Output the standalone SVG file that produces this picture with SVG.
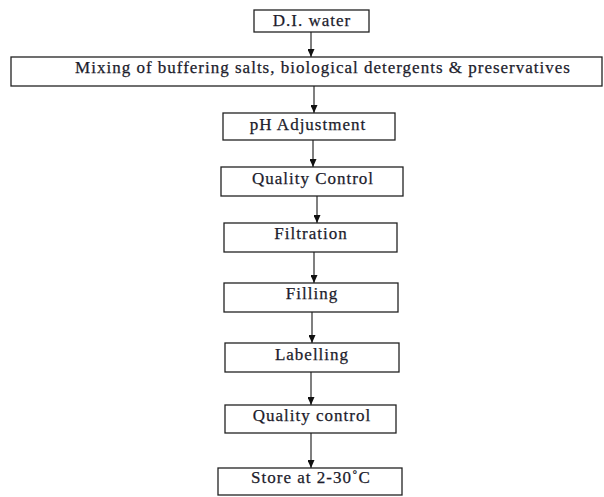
<svg xmlns="http://www.w3.org/2000/svg" width="604" height="497" viewBox="0 0 604 497">
<style>
.box{fill:#fff;stroke:#222;stroke-width:1.3}
.lbl{font-family:"Liberation Serif","Times New Roman",serif;font-size:17px;letter-spacing:1px;fill:#1c1c2c;stroke:#1c1c2c;stroke-width:0.25;text-anchor:middle}
.con{stroke:#555;stroke-width:1.5;fill:none;marker-end:url(#ah)}
</style>
<defs>
<marker id="ah" markerWidth="8" markerHeight="7" refX="8" refY="3.5" orient="auto" markerUnits="userSpaceOnUse">
<path d="M0,0 L8,3.5 L0,7 Z" fill="#111"/>
</marker>
</defs>
<rect width="604" height="497" fill="#fff"/>
<g id="connectors">
<line class="con" x1="311" y1="32" x2="311" y2="57"/>
<line class="con" x1="314" y1="86" x2="314" y2="113"/>
<line class="con" x1="313" y1="140" x2="313" y2="167"/>
<line class="con" x1="317" y1="196" x2="317" y2="223"/>
<line class="con" x1="314" y1="252" x2="314" y2="283"/>
<line class="con" x1="312" y1="312" x2="312" y2="343"/>
<line class="con" x1="311" y1="372" x2="311" y2="405"/>
<line class="con" x1="311" y1="433" x2="311" y2="468"/>
</g>
<g id="n1"><rect class="box" x="254" y="10" width="115" height="22"/><text class="lbl" x="312" y="26">D.I. water</text></g>
<g id="n2"><rect class="box" x="11" y="57" width="591" height="29"/><text class="lbl" x="323" y="73">Mixing of buffering salts, biological detergents &amp; preservatives</text></g>
<g id="n3"><rect class="box" x="223" y="113" width="172" height="27"/><text class="lbl" x="308" y="130">pH Adjustment</text></g>
<g id="n4"><rect class="box" x="221" y="167" width="182" height="29"/><text class="lbl" x="313" y="184">Quality Control</text></g>
<g id="n5"><rect class="box" x="224" y="223" width="173" height="29"/><text class="lbl" x="311" y="239">Filtration</text></g>
<g id="n6"><rect class="box" x="224" y="283" width="174" height="29"/><text class="lbl" x="312" y="299">Filling</text></g>
<g id="n7"><rect class="box" x="225" y="343" width="174" height="29"/><text class="lbl" x="312" y="360">Labelling</text></g>
<g id="n8"><rect class="box" x="225" y="405" width="171" height="28"/><text class="lbl" x="312" y="421">Quality control</text></g>
<g id="n9"><rect class="box" x="218" y="468" width="184" height="27"/><text class="lbl" x="311" y="483">Store at 2-30˚C</text></g>
</svg>
